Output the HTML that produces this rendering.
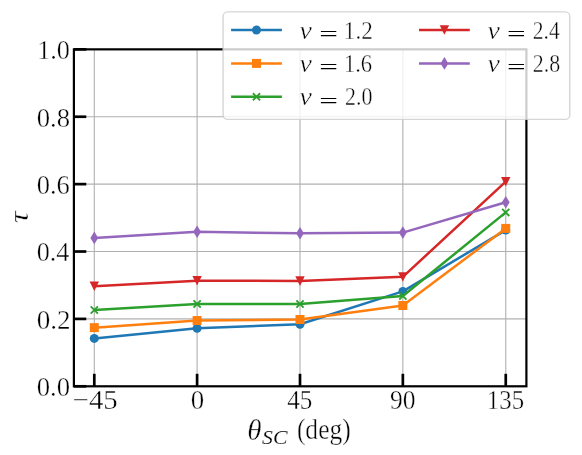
<!DOCTYPE html>
<html><head><meta charset="utf-8"><title>chart</title>
<style>
html,body{margin:0;padding:0;background:#fff;}
svg{display:block;will-change:transform;}
text{font-family:"Liberation Serif",serif;fill:#000;stroke:#fff;stroke-width:0.4px;}
.it{font-style:italic;}
</style></head><body>
<svg width="582" height="455" viewBox="0 0 582 455">
<rect width="582" height="455" fill="#fff"/>
<g stroke="#b0b0b0" stroke-width="1.1" fill="none">
<path d="M94.3 49.35V386.3"/>
<path d="M197.1 49.35V386.3"/>
<path d="M300.0 49.35V386.3"/>
<path d="M402.85 49.35V386.3"/>
<path d="M505.75 49.35V386.3"/>
<path d="M73.9 116.74H526.4"/>
<path d="M73.9 184.13H526.4"/>
<path d="M73.9 251.52H526.4"/>
<path d="M73.9 318.91H526.4"/>
</g>
<polyline points="94.3,338.4 197.1,328.3 300.0,324.3 402.85,291.4 505.75,230.1" fill="none" stroke="#1f77b4" stroke-width="2.5" stroke-linejoin="round"/>
<circle cx="94.30" cy="338.40" r="4.5" fill="#1f77b4"/>
<circle cx="197.10" cy="328.30" r="4.5" fill="#1f77b4"/>
<circle cx="300.00" cy="324.30" r="4.5" fill="#1f77b4"/>
<circle cx="402.85" cy="291.40" r="4.5" fill="#1f77b4"/>
<circle cx="505.75" cy="230.10" r="4.5" fill="#1f77b4"/>
<polyline points="94.3,327.65 197.1,320.55 300.0,319.5 402.85,305.5 505.75,228.4" fill="none" stroke="#ff7f0e" stroke-width="2.5" stroke-linejoin="round"/>
<rect x="89.80" y="323.15" width="9" height="9" fill="#ff7f0e"/>
<rect x="192.60" y="316.05" width="9" height="9" fill="#ff7f0e"/>
<rect x="295.50" y="315.00" width="9" height="9" fill="#ff7f0e"/>
<rect x="398.35" y="301.00" width="9" height="9" fill="#ff7f0e"/>
<rect x="501.25" y="223.90" width="9" height="9" fill="#ff7f0e"/>
<polyline points="94.3,310.05 197.1,304.05 300.0,304.05 402.85,296.0 505.75,212.4" fill="none" stroke="#2ca02c" stroke-width="2.5" stroke-linejoin="round"/>
<path d="M90.70 306.45L97.90 313.65M90.70 313.65L97.90 306.45" stroke="#2ca02c" stroke-width="1.8" fill="none"/>
<path d="M193.50 300.45L200.70 307.65M193.50 307.65L200.70 300.45" stroke="#2ca02c" stroke-width="1.8" fill="none"/>
<path d="M296.40 300.45L303.60 307.65M296.40 307.65L303.60 300.45" stroke="#2ca02c" stroke-width="1.8" fill="none"/>
<path d="M399.25 292.40L406.45 299.60M399.25 299.60L406.45 292.40" stroke="#2ca02c" stroke-width="1.8" fill="none"/>
<path d="M502.15 208.80L509.35 216.00M502.15 216.00L509.35 208.80" stroke="#2ca02c" stroke-width="1.8" fill="none"/>
<polyline points="94.3,286.2 197.1,280.65 300.0,281.0 402.85,276.85 505.75,181.6" fill="none" stroke="#d62728" stroke-width="2.5" stroke-linejoin="round"/>
<path d="M89.60 281.50L99.00 281.50L94.30 291.10Z" fill="#d62728"/>
<path d="M192.40 275.95L201.80 275.95L197.10 285.55Z" fill="#d62728"/>
<path d="M295.30 276.30L304.70 276.30L300.00 285.90Z" fill="#d62728"/>
<path d="M398.15 272.15L407.55 272.15L402.85 281.75Z" fill="#d62728"/>
<path d="M501.05 176.90L510.45 176.90L505.75 186.50Z" fill="#d62728"/>
<polyline points="94.3,237.9 197.1,231.8 300.0,233.3 402.85,232.6 505.75,202.3" fill="none" stroke="#9467bd" stroke-width="2.5" stroke-linejoin="round"/>
<path d="M94.30 231.60L98.20 237.90L94.30 244.20L90.40 237.90Z" fill="#9467bd"/>
<path d="M197.10 225.50L201.00 231.80L197.10 238.10L193.20 231.80Z" fill="#9467bd"/>
<path d="M300.00 227.00L303.90 233.30L300.00 239.60L296.10 233.30Z" fill="#9467bd"/>
<path d="M402.85 226.30L406.75 232.60L402.85 238.90L398.95 232.60Z" fill="#9467bd"/>
<path d="M505.75 196.00L509.65 202.30L505.75 208.60L501.85 202.30Z" fill="#9467bd"/>
<g stroke="#000" stroke-width="2.7" fill="none">
<path d="M94.3 386.3v-12.5"/>
<path d="M197.1 386.3v-12.5"/>
<path d="M300.0 386.3v-12.5"/>
<path d="M402.85 386.3v-12.5"/>
<path d="M505.75 386.3v-12.5"/>
<path d="M73.9 49.35h12.4"/>
<path d="M73.9 116.74h12.4"/>
<path d="M73.9 184.13h12.4"/>
<path d="M73.9 251.52h12.4"/>
<path d="M73.9 318.91h12.4"/>
<path d="M73.9 386.30h12.4"/>
</g>
<rect x="73.9" y="49.35" width="452.50" height="336.95" fill="none" stroke="#000" stroke-width="2.2"/>
<text x="37.19" y="59.15" font-size="27.8" textLength="32.81" lengthAdjust="spacingAndGlyphs">1.0</text>
<text x="36.68" y="126.54" font-size="27.8" textLength="33.33" lengthAdjust="spacingAndGlyphs">0.8</text>
<text x="36.69" y="193.93" font-size="27.8" textLength="33.10" lengthAdjust="spacingAndGlyphs">0.6</text>
<text x="36.70" y="261.32" font-size="27.8" textLength="32.71" lengthAdjust="spacingAndGlyphs">0.4</text>
<text x="36.67" y="328.71" font-size="27.8" textLength="33.82" lengthAdjust="spacingAndGlyphs">0.2</text>
<text x="36.68" y="396.10" font-size="27.8" textLength="33.33" lengthAdjust="spacingAndGlyphs">0.0</text>
<text x="72.67" y="409.40" font-size="27.8" textLength="45.06" lengthAdjust="spacingAndGlyphs">−45</text>
<text x="190.78" y="409.40" font-size="27.8" textLength="13.45" lengthAdjust="spacingAndGlyphs">0</text>
<text x="287.31" y="409.40" font-size="27.8" textLength="25.07" lengthAdjust="spacingAndGlyphs">45</text>
<text x="389.98" y="409.40" font-size="27.8" textLength="25.49" lengthAdjust="spacingAndGlyphs">90</text>
<text x="486.82" y="409.40" font-size="27.8" textLength="37.25" lengthAdjust="spacingAndGlyphs">135</text>
<text x="247.28" y="439.80" font-size="29" textLength="14.30" lengthAdjust="spacingAndGlyphs" class="it">θ</text>
<text x="262.14" y="443.70" font-size="19" textLength="25.45" lengthAdjust="spacingAndGlyphs" class="it" style="stroke-width:0.15px">SC</text>
<text x="296.88" y="439.40" font-size="28.5" textLength="53.84" lengthAdjust="spacingAndGlyphs">(deg)</text>
<g transform="translate(28.0,222.6) rotate(-90)"><text x="-0.74" y="0.00" font-size="27" textLength="12.02" lengthAdjust="spacingAndGlyphs" class="it">τ</text></g>
<rect x="223.1" y="11.9" width="346.65" height="107.5" rx="4.5" ry="4.5" fill="#fff" fill-opacity="0.8" stroke="#ccc" stroke-opacity="0.8" stroke-width="1.4"/>
<path d="M231.10 29.95h50.8" stroke="#1f77b4" stroke-width="2.5" fill="none"/>
<circle cx="256.50" cy="29.95" r="4.5" fill="#1f77b4"/>
<text x="299.62" y="38.55" font-size="24.6" textLength="12.38" lengthAdjust="spacingAndGlyphs" class="it">ν</text>
<text x="319.15" y="40.85" font-size="20" textLength="18.66" lengthAdjust="spacingAndGlyphs" style="stroke:none">=</text>
<text x="343.87" y="38.55" font-size="24.8" textLength="28.91" lengthAdjust="spacingAndGlyphs">1.2</text>
<path d="M231.10 63.4h50.8" stroke="#ff7f0e" stroke-width="2.5" fill="none"/>
<rect x="252.00" y="58.90" width="9" height="9" fill="#ff7f0e"/>
<text x="299.62" y="72.00" font-size="24.6" textLength="12.38" lengthAdjust="spacingAndGlyphs" class="it">ν</text>
<text x="319.15" y="74.30" font-size="20" textLength="18.66" lengthAdjust="spacingAndGlyphs" style="stroke:none">=</text>
<text x="343.91" y="72.00" font-size="24.8" textLength="28.26" lengthAdjust="spacingAndGlyphs">1.6</text>
<path d="M231.10 96.85h50.8" stroke="#2ca02c" stroke-width="2.5" fill="none"/>
<path d="M252.90 93.25L260.10 100.45M252.90 100.45L260.10 93.25" stroke="#2ca02c" stroke-width="1.8" fill="none"/>
<text x="299.62" y="105.45" font-size="24.6" textLength="12.38" lengthAdjust="spacingAndGlyphs" class="it">ν</text>
<text x="319.15" y="107.75" font-size="20" textLength="18.66" lengthAdjust="spacingAndGlyphs" style="stroke:none">=</text>
<text x="344.94" y="105.45" font-size="24.8" textLength="27.40" lengthAdjust="spacingAndGlyphs">2.0</text>
<path d="M419.00 29.95h50.8" stroke="#d62728" stroke-width="2.5" fill="none"/>
<path d="M439.70 25.25L449.10 25.25L444.40 34.85Z" fill="#d62728"/>
<text x="487.52" y="38.55" font-size="24.6" textLength="12.38" lengthAdjust="spacingAndGlyphs" class="it">ν</text>
<text x="507.05" y="40.85" font-size="20" textLength="18.66" lengthAdjust="spacingAndGlyphs" style="stroke:none">=</text>
<text x="532.85" y="38.55" font-size="24.8" textLength="26.88" lengthAdjust="spacingAndGlyphs">2.4</text>
<path d="M419.00 63.4h50.8" stroke="#9467bd" stroke-width="2.5" fill="none"/>
<path d="M444.40 57.10L448.30 63.40L444.40 69.70L440.50 63.40Z" fill="#9467bd"/>
<text x="487.52" y="72.00" font-size="24.6" textLength="12.38" lengthAdjust="spacingAndGlyphs" class="it">ν</text>
<text x="507.05" y="74.30" font-size="20" textLength="18.66" lengthAdjust="spacingAndGlyphs" style="stroke:none">=</text>
<text x="532.84" y="72.00" font-size="24.8" textLength="27.40" lengthAdjust="spacingAndGlyphs">2.8</text>
</svg></body></html>
